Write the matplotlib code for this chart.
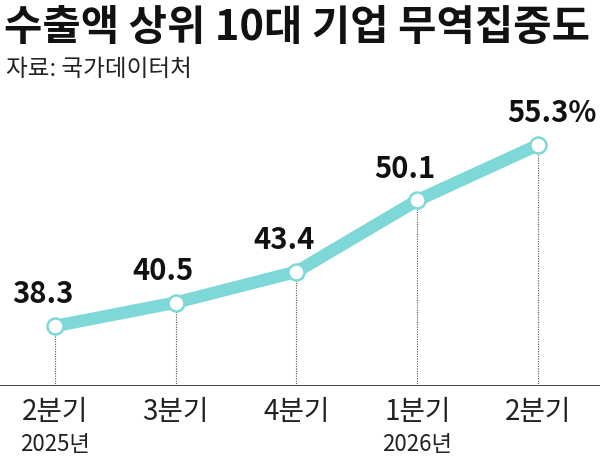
import matplotlib.pyplot as plt

plt.rcParams['font.family'] = ['Noto Sans CJK KR', 'DejaVu Sans']

# 데이터
quarters = ['2분기', '3분기', '4분기', '1분기', '2분기']
years = ['2025년', '', '', '2026년', '']
values = [38.3, 40.5, 43.4, 50.1, 55.3]
value_labels = ['38.3', '40.5', '43.4', '50.1', '55.3%']

line_color = '#7fd8d8'
base = 32.67

fig = plt.figure(figsize=(6, 4.62), dpi=100)
ax = fig.add_axes([0, 76 / 462, 1, 286 / 462])

x = list(range(len(values)))

# 점선 세로선
for xi, v in zip(x, values):
    ax.plot([xi, xi], [base, v], color='#555555', lw=0.8, ls=(0, (1, 1.2)), zorder=1)

ax.plot(x, values, color=line_color, lw=9, solid_capstyle='round', zorder=2)
ax.plot(x, values, 'o', ms=11.5, mfc='white', mec=line_color, mew=1.8, zorder=3)

for i, (xi, v, lab) in enumerate(zip(x, values, value_labels)):
    if i == len(values) - 1:
        ax.annotate(lab, (xi, v), xytext=(-22, 12), textcoords='offset points',
                    ha='left', va='bottom', fontsize=21, fontweight='bold', color='#111111')
    else:
        ax.annotate(lab, (xi, v), xytext=(-9, 12), textcoords='offset points',
                    ha='center', va='bottom', fontsize=21, fontweight='bold', color='#111111')

ax.set_xlim(-0.455, 4.513)
ax.set_ylim(base, 59.52)
ax.axhline(base, color='#222222', lw=1.2)
for s in ax.spines.values():
    s.set_visible(False)
ax.set_xticks([])
ax.set_yticks([])

for xi, q, y in zip(x, quarters, years):
    ax.text(xi, base - 1.0, q, ha='center', va='top', fontsize=20, color='#222222')
    if y:
        ax.text(xi, base - 4.4, y, ha='center', va='top', fontsize=16, color='#222222')

fig.text(0.006, 0.985, '수출액 상위 10대 기업 무역집중도', ha='left', va='top',
         fontsize=30, fontweight='black', color='#111111')
fig.text(0.01, 0.875, '자료: 국가데이터처', ha='left', va='top', fontsize=17, color='#222222')

fig.savefig('out.png', dpi=100)
